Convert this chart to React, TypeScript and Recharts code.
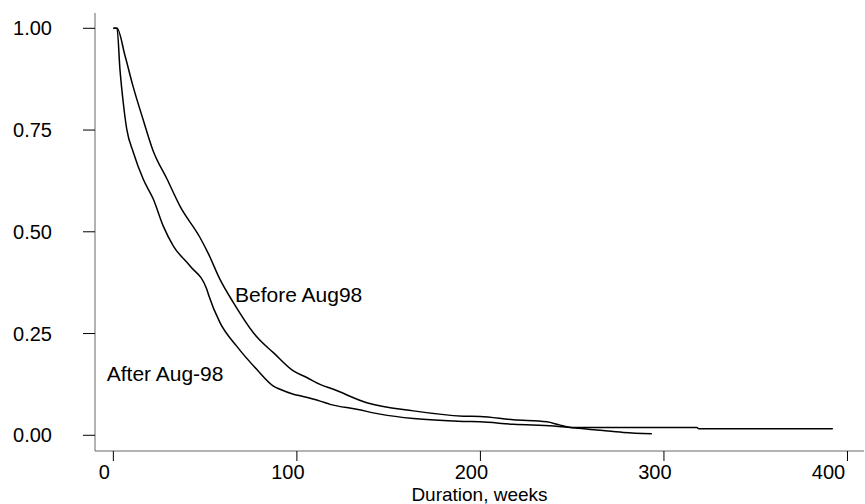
import React from "react";
import { LineChart, Line, XAxis, YAxis, ReferenceDot, Label } from "recharts";

// Kaplan-Meier style survival curves
const beforeWeeks = [0, 2, 6.4, 10.7, 16.2, 21.6, 29.3, 36.3, 47.2, 51.7, 58.1, 65.4, 76.3, 78.5, 87.2, 98.1, 105.4, 112.6, 119.9, 138.1, 163.5, 190.7, 199.8, 218, 236.2, 243.4, 250.7, 318, 319, 392];
const beforeSurvival = [1, 1, 0.932, 0.858, 0.776, 0.7, 0.629, 0.563, 0.486, 0.447, 0.383, 0.326, 0.252, 0.24, 0.203, 0.158, 0.142, 0.125, 0.113, 0.08, 0.06, 0.047, 0.046, 0.038, 0.033, 0.025, 0.019, 0.019, 0.016, 0.016];

const afterWeeks = [0, 2, 3.6, 5.4, 7.3, 10.9, 16.3, 21.8, 27.2, 32.7, 41.8, 50.9, 51.8, 58.1, 67.2, 78.1, 87.2, 90.8, 98.1, 101.7, 112.6, 118.1, 132.6, 145.3, 163.5, 190.7, 199.8, 218, 239.8, 263.4, 277.9, 293.4];
const afterSurvival = [1, 1, 0.899, 0.817, 0.752, 0.695, 0.629, 0.58, 0.514, 0.465, 0.416, 0.359, 0.346, 0.277, 0.219, 0.162, 0.121, 0.113, 0.101, 0.097, 0.084, 0.076, 0.064, 0.052, 0.041, 0.034, 0.033, 0.027, 0.023, 0.013, 0.007, 0.004];

const xTicks = [0, 100, 200, 300, 400];
const yTicks = [0, 0.25, 0.5, 0.75, 1];
const xTitle = "Duration, weeks";
const beforeLabel = "Before Aug98";
const afterLabel = "After Aug-98";

const beforeData = beforeWeeks.map((t, i) => ({ t, s: beforeSurvival[i] }));
const afterData = afterWeeks.map((t, i) => ({ t, s: afterSurvival[i] }));

const FONT = "'Liberation Sans', Arial, sans-serif";
const FS = 21;

const XTick = (props: any) => {
  const { x, y, payload } = props;
  const dx = payload.value === 400 ? -19 : -9;
  return (
    <text x={x + dx} y={y} dy="0.71em" textAnchor="middle" fontFamily={FONT} fontSize={20} fill="#000">
      {payload.value}
    </text>
  );
};

export default function App() {
  return (
    <div style={{ position: "absolute", left: 0, top: 0, width: 865, height: 504, background: "#fff" }}>
      <LineChart width={865} height={504} margin={{ top: 13, right: 1, bottom: 0, left: 0 }}>
        <XAxis
          xAxisId="bottom"
          type="number"
          dataKey="t"
          domain={[-10, 409]}
          allowDataOverflow
          ticks={xTicks}
          height={53}
          tickSize={10}
          tickMargin={4}
          stroke="#666"
          tickLine={{ stroke: "#000" }}
          tick={<XTick />}
        >
          <Label value={xTitle} position="insideBottom" offset={3} style={{ fontFamily: FONT, fontSize: 19, fill: "#000" }} />
        </XAxis>
        <XAxis
          xAxisId="top"
          orientation="top"
          type="number"
          dataKey="t"
          domain={[-10, 409]}
          allowDataOverflow
          ticks={xTicks}
          height={0}
          tickSize={11}
          stroke="#666"
          tickLine={{ stroke: "#000" }}
          tick={false}
        />
        <YAxis
          yAxisId="left"
          type="number"
          domain={[-0.0386, 1.0376]}
          allowDataOverflow
          ticks={yTicks}
          width={95}
          tickSize={12}
          tickMargin={31}
          stroke="#666"
          tickLine={{ stroke: "#000" }}
          tickFormatter={(v: number) => v.toFixed(2)}
          tick={{ fontFamily: FONT, fontSize: 20, fill: "#000" }}
        />
        <YAxis
          yAxisId="right"
          orientation="right"
          type="number"
          domain={[-0.0386, 1.0376]}
          width={0}
          stroke="#e4e4e4"
          tick={false}
          tickLine={false}
        />
        <Line
          xAxisId="bottom"
          yAxisId="left"
          data={beforeData}
          dataKey="s"
          type="monotone"
          stroke="#000"
          strokeWidth={1.5}
          dot={false}
          isAnimationActive={false}
        />
        <Line
          xAxisId="bottom"
          yAxisId="left"
          data={afterData}
          dataKey="s"
          type="monotone"
          stroke="#000"
          strokeWidth={1.5}
          dot={false}
          isAnimationActive={false}
        />
        <ReferenceDot
          xAxisId="bottom"
          yAxisId="left"
          x={66.3}
          y={0.345}
          r={0}
          stroke="none"
          label={{ value: beforeLabel, position: "right", offset: 0, style: { fontFamily: FONT, fontSize: FS, fill: "#000" } }}
        />
        <ReferenceDot
          xAxisId="bottom"
          yAxisId="left"
          x={-3.6}
          y={0.152}
          r={0}
          stroke="none"
          label={{ value: afterLabel, position: "right", offset: 0, style: { fontFamily: FONT, fontSize: FS, fill: "#000" } }}
        />
      </LineChart>
    </div>
  );
}
